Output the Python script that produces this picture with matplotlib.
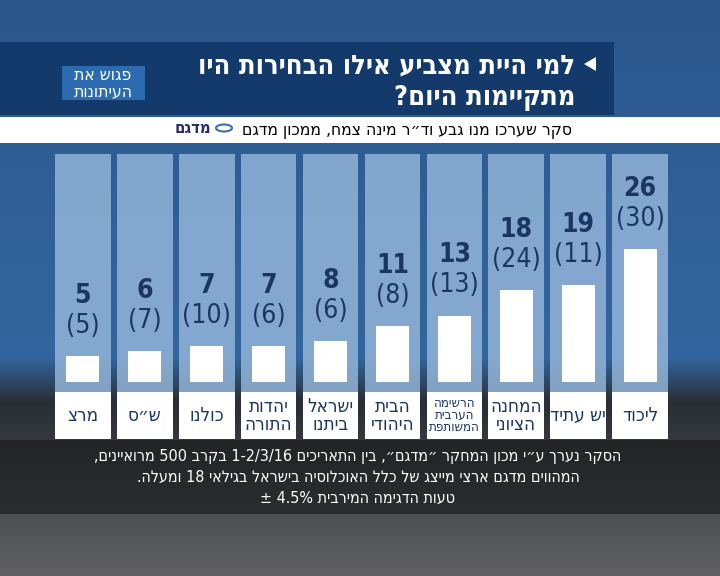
import re

import matplotlib
matplotlib.use("Agg")
import matplotlib.pyplot as plt
import numpy as np
from matplotlib.patches import Rectangle, Polygon, Ellipse
from matplotlib.transforms import blended_transform_factory

# --- data (left to right as drawn) ---
parties = ["מרצ", "ש״ס", "כולנו", "יהדות\nהתורה", "ישראל\nביתנו",
           "הבית\nהיהודי", "הרשימה\nהערבית\nהמשותפת", "המחנה\nהציוני",
           "יש עתיד", "ליכוד"]
seats_now = [5, 6, 7, 7, 8, 11, 13, 18, 19, 26]
seats_prev = [5, 7, 10, 6, 6, 8, 13, 24, 11, 30]

title_lines = ["למי היית מצביע אילו הבחירות היו", "מתקיימות היום?"]
subtitle = "סקר שערכו מנו גבע וד״ר מינה צמח, ממכון מדגם"
logo_text = ["פגוש את", "העיתונות"]
footnote = ["הסקר נערך ע״י מכון המחקר ״מדגם״, בין התאריכים 1-2/3/16 בקרב 500 מרואיינים,",
            "המהווים מדגם ארצי מייצג של כלל האוכלוסיה בישראל בגילאי 18 ומעלה.",
            "טעות הדגימה המירבית 4.5% ±"]

NAVY = "#1b3663"
FONT = ["DejaVu Sans"]
TXT = dict(family=FONT, fontstretch="condensed")
MIRROR = {"(": ")", ")": "("}


def rtl(s):
    """Crude bidi: reverse Hebrew text but keep number runs left-to-right."""
    toks = re.findall(r"[0-9A-Za-z][0-9A-Za-z./%\-]*[0-9A-Za-z%]|[0-9A-Za-z]|.", s)
    return "".join(MIRROR.get(t, t) for t in reversed(toks))


def rtl_lines(s):
    return "\n".join(rtl(line) for line in s.split("\n"))


fig = plt.figure(figsize=(7.2, 5.76), dpi=100)

# background gradient (blue top, grey bottom)
bg = fig.add_axes([0, 0, 1, 1])
bg.set_axis_off()
top = np.array([0.17, 0.34, 0.55])
mid = np.array([0.20, 0.40, 0.62])
low = np.array([0.16, 0.18, 0.21])
bot = np.array([0.38, 0.38, 0.39])
ys = np.linspace(0, 1, 400)
cols = np.zeros((400, 1, 3))
for i, t in enumerate(ys):
    if t < 0.62:
        c = top + (mid - top) * t / 0.62
    elif t < 0.70:
        c = mid + (low - mid) * (t - 0.62) / 0.08
    else:
        c = low + (bot - low) * (t - 0.70) / 0.30
    cols[i, 0] = c
grad = np.repeat(cols, 50, axis=1)
bg.imshow(grad, extent=[0, 1, 0, 1], origin="upper", aspect="auto")
bg.set_xlim(0, 1)
bg.set_ylim(0, 1)

# title banner
bg.add_patch(Rectangle((0, 1 - 115 / 576), 614 / 720, 73 / 576, color="#143a6c", lw=0))
# logo box
bg.add_patch(Rectangle((62 / 720, 1 - 100 / 576), 83 / 720, 34 / 576, color="#2c6bb0", lw=0))
bg.text(103 / 720, 1 - 83 / 576, "\n".join(rtl(t) for t in logo_text), ha="center",
        va="center", color="white", fontsize=12.5, linespacing=0.85, **TXT)
# title text
for k, line in enumerate(title_lines):
    bg.text(575 / 720, 1 - (66 + k * 32) / 576, rtl(line), ha="right", va="center",
            color="white", fontsize=19.5, fontweight="bold", **TXT)
bg.add_patch(Polygon([(584 / 720, 1 - 64 / 576), (596 / 720, 1 - 57 / 576),
                      (596 / 720, 1 - 71 / 576)], closed=True, color="white", lw=0))
# subtitle band
bg.add_patch(Rectangle((0, 1 - 143 / 576), 1, 26 / 576, color="white", lw=0))
bg.text(572 / 720, 1 - 130 / 576, rtl(subtitle), ha="right", va="center",
        color="black", fontsize=12.5, **TXT)
bg.text(211 / 720, 1 - 128 / 576, rtl("מדגם"), ha="right", va="center",
        color="#2b2d6e", fontsize=12, fontweight="bold", **TXT)
bg.add_patch(Ellipse((224 / 720, 1 - 128 / 576), 16 / 720, 7 / 576, fill=False,
                     ec="#3a6fb5", lw=1.5))

# footnote band
bg.add_patch(Rectangle((0, 1 - 514 / 576), 1, 74 / 576, color="#1a1a1a", alpha=0.65, lw=0))
for k, line in enumerate(footnote):
    bg.text(358 / 720, 1 - (456 + k * 21) / 576, rtl(line), ha="center", va="center",
            color="white", fontsize=11.5, **TXT)

# --- bar chart ---
ax = fig.add_axes([55 / 720, 1 - 439 / 576, 613 / 720, 285 / 576])
ax.set_axis_off()
x = np.arange(len(parties))
ymax = max(seats_now)
scale = ymax / 133.0  # units per pixel
ax.set_xlim(-0.45, len(parties) - 0.55)
ax.set_ylim(-57 * scale, 228 * scale)

trans = blended_transform_factory(ax.transData, ax.transAxes)
ax.bar(x, [1] * len(x), width=0.9, bottom=0, transform=trans,
       color="#92b4d8", alpha=0.85, lw=0, zorder=1)
ax.bar(x, [0.165] * len(x), width=0.9, bottom=0, transform=trans,
       color="white", lw=0, zorder=2)
ax.bar(x, seats_now, width=0.53, color="white", lw=0, zorder=3)

for xi, now, prev, name in zip(x, seats_now, seats_prev, parties):
    ax.annotate(str(now), (xi, now), xytext=(0, 60), textcoords="offset pixels",
                ha="center", va="center", fontsize=19, fontweight="bold",
                color=NAVY, zorder=4, **TXT)
    ax.annotate(f"({prev})", (xi, now), xytext=(0, 30), textcoords="offset pixels",
                ha="center", va="center", fontsize=19, color=NAVY, zorder=4, **TXT)
    n_lines = name.count("\n") + 1
    fs = {1: 13.5, 2: 13.5, 3: 9.5}[n_lines]
    ax.text(xi, 0.0825, rtl_lines(name), transform=trans, ha="center", va="center",
            fontsize=fs, color=NAVY, linespacing=0.88, zorder=4, **TXT)

fig.savefig("out.png", dpi=100)
